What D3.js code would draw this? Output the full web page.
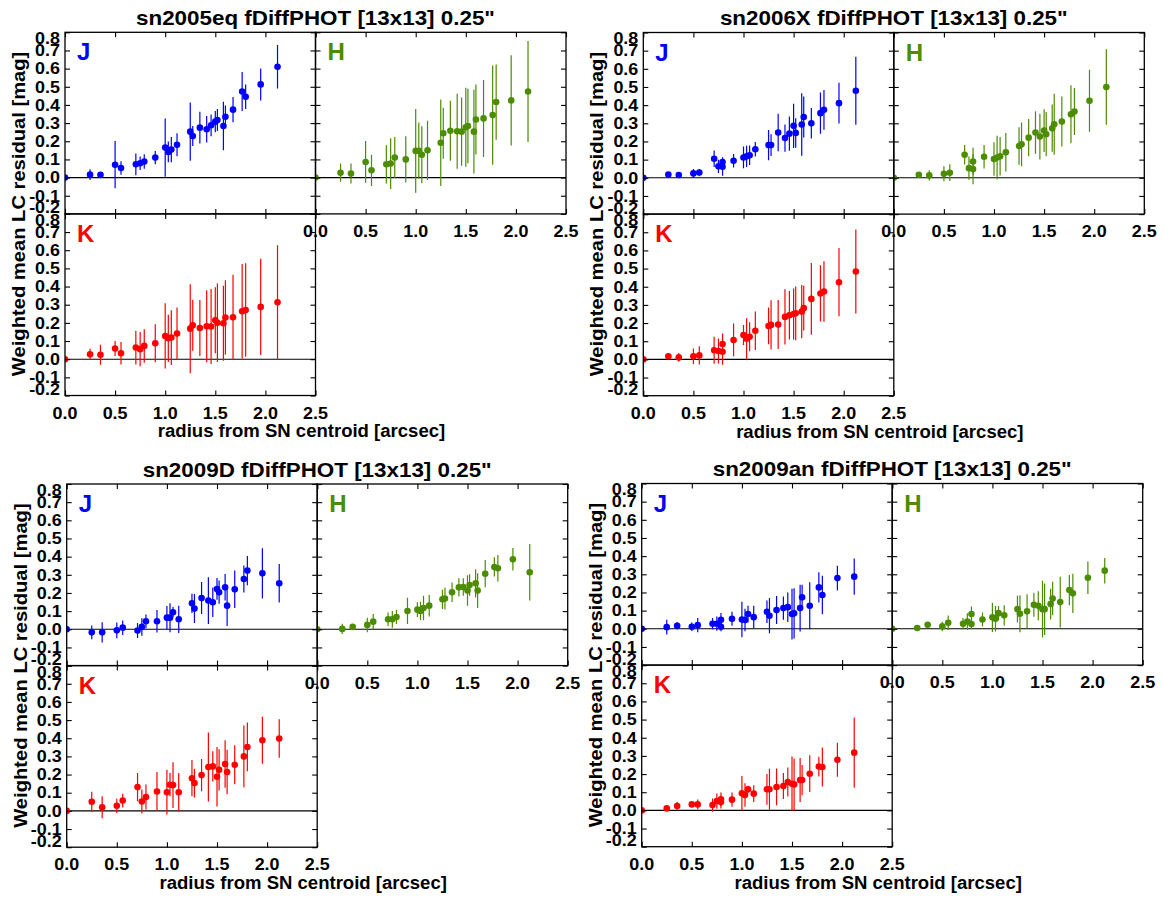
<!DOCTYPE html>
<html>
<head>
<meta charset="utf-8">
<script src="https://cdn.jsdelivr.net/npm/d3@7"></script>
<style>
  body { margin: 0; background: #fff; }
  text { font-family: "Liberation Sans", Arial, Helvetica, sans-serif; font-weight: bold; }
</style>
</head>
<body>
<svg id="fig" width="1163" height="898"></svg>
<script>
// Radii of the 13x13 grid cells (0.25" pixels) from the SN centroid
const radius = [0, 0.25, 0.354, 0.5, 0.559, 0.707, 0.75, 0.791, 0.901, 1.0, 1.031, 1.061, 1.118, 1.25, 1.275,
  1.346, 1.414, 1.458, 1.5, 1.521, 1.581, 1.601, 1.677, 1.768, 1.803, 1.953, 2.121];
// Same grid, but with two separate annuli at r ~ 0.79"
const radiusSplit = [0, 0.25, 0.354, 0.5, 0.559, 0.707, 0.75, 0.791, 0.791, 0.901, 1.0, 1.031, 1.061, 1.118, 1.25, 1.275,
  1.346, 1.414, 1.458, 1.5, 1.521, 1.581, 1.601, 1.677, 1.768, 1.803, 1.953, 2.121];

const objects = ["sn2005eq", "sn2006X", "sn2009D", "sn2009an"];
const bands = ["J", "H", "K"];
const yTicks = [-0.2, -0.1, 0.0, 0.1, 0.2, 0.3, 0.4, 0.5, 0.6, 0.7, 0.8];
const xTicks = [0.0, 0.5, 1.0, 1.5, 2.0, 2.5];

// sn2005eq
const sn2005eqJ = [0, 0.016, 0.015, 0.071, 0.053, 0.073, 0.079, 0.088, 0.11, 0.165, 0.141, 0.154, 0.181, 0.253, 0.229, 0.275, 0.266, 0.288, 0.308, 0.317, 0.284, 0.335, 0.374, 0.474, 0.445, 0.513, 0.61];
const sn2005eqJerr = [0, 0.03, 0.01, 0.13, 0.037, 0.06, 0.037, 0.04, 0.037, 0.16, 0.057, 0.07, 0.063, 0.16, 0.055, 0.087, 0.073, 0.06, 0.058, 0.06, 0.133, 0.062, 0.07, 0.107, 0.068, 0.088, 0.12];
const sn2005eqH = [0, 0.027, 0.022, 0.086, 0.04, 0.073, 0.077, 0.11, 0.10, 0.147, 0.148, 0.126, 0.15, 0.192, 0.244, 0.258, 0.255, 0.253, 0.277, 0.284, 0.253, 0.32, 0.326, 0.344, 0.416, 0.425, 0.474];
const sn2005eqHerr = [0, 0.05, 0.055, 0.115, 0.086, 0.105, 0.14, 0.113, 0.127, 0.23, 0.155, 0.157, 0.163, 0.238, 0.14, 0.165, 0.207, 0.188, 0.217, 0.205, 0.23, 0.193, 0.212, 0.273, 0.207, 0.248, 0.278];
const sn2005eqK = [0, 0.027, 0.024, 0.059, 0.033, 0.064, 0.055, 0.073, 0.088, 0.128, 0.115, 0.119, 0.141, 0.168, 0.187, 0.172, 0.181, 0.18, 0.214, 0.201, 0.198, 0.229, 0.231, 0.264, 0.271, 0.288, 0.313];
const sn2005eqKerr = [0, 0.031, 0.055, 0.041, 0.062, 0.093, 0.094, 0.092, 0.105, 0.18, 0.13, 0.151, 0.144, 0.245, 0.14, 0.154, 0.198, 0.207, 0.182, 0.216, 0.206, 0.205, 0.234, 0.26, 0.257, 0.265, 0.314];

// sn2006X
const sn2006XJ = [0, 0.018, 0.015, 0.024, 0.029, 0.105, 0.063, 0.087, 0.061, 0.094, 0.112, 0.118, 0.124, 0.157, 0.18, 0.18, 0.249, 0.219, 0.243, 0.286, 0.247, 0.293, 0.335, 0.30, 0.356, 0.374, 0.411, 0.479];
const sn2006XJerr = [0, 0.012, 0.01, 0.025, 0.02, 0.045, 0.036, 0.025, 0.05, 0.037, 0.06, 0.058, 0.054, 0.04, 0.083, 0.06, 0.103, 0.075, 0.094, 0.122, 0.081, 0.172, 0.113, 0.084, 0.113, 0.11, 0.112, 0.187];
const sn2006XH = [0, 0.017, 0.013, 0.022, 0.028, 0.127, 0.053, 0.09, 0.048, 0.116, 0.103, 0.112, 0.118, 0.14, 0.175, 0.184, 0.221, 0.249, 0.227, 0.26, 0.24, 0.273, 0.295, 0.31, 0.35, 0.365, 0.424, 0.50];
const sn2006XHerr = [0, 0.01, 0.028, 0.041, 0.046, 0.054, 0.064, 0.075, 0.083, 0.065, 0.092, 0.12, 0.106, 0.106, 0.103, 0.12, 0.103, 0.117, 0.126, 0.118, 0.122, 0.13, 0.168, 0.138, 0.16, 0.129, 0.171, 0.208];
const sn2006XK = [0, 0.017, 0.011, 0.017, 0.022, 0.05, 0.046, 0.085, 0.042, 0.107, 0.134, 0.114, 0.125, 0.158, 0.184, 0.19, 0.192, 0.234, 0.243, 0.25, 0.254, 0.263, 0.282, 0.333, 0.363, 0.374, 0.425, 0.484];
const sn2006XKerr = [0, 0.01, 0.024, 0.043, 0.05, 0.074, 0.069, 0.057, 0.071, 0.09, 0.055, 0.113, 0.08, 0.106, 0.101, 0.136, 0.135, 0.152, 0.134, 0.14, 0.148, 0.147, 0.123, 0.198, 0.155, 0.167, 0.188, 0.231];

// sn2009D
const sn2009DJ = [0, -0.017, -0.017, -0.006, 0.009, -0.007, 0.013, 0.044, 0.044, 0.064, 0.064, 0.094, 0.055, 0.143, 0.114, 0.172, 0.158, 0.149, 0.222, 0.204, 0.231, 0.13, 0.22, 0.277, 0.323, 0.308, 0.253];
const sn2009DJerr = [0, 0.038, 0.056, 0.044, 0.04, 0.041, 0.048, 0.038, 0.062, 0.064, 0.08, 0.028, 0.075, 0.053, 0.08, 0.088, 0.129, 0.081, 0.06, 0.064, 0.073, 0.112, 0.103, 0.074, 0.08, 0.138, 0.106];
const sn2009DH = [0, 0.002, 0.013, 0.024, 0.042, 0.055, 0.055, 0.068, 0.101, 0.108, 0.101, 0.117, 0.13, 0.165, 0.169, 0.204, 0.231, 0.233, 0.213, 0.244, 0.253, 0.213, 0.306, 0.343, 0.336, 0.385, 0.314];
const sn2009DHerr = [0, 0.028, 0.01, 0.04, 0.042, 0.037, 0.046, 0.039, 0.072, 0.041, 0.05, 0.067, 0.059, 0.053, 0.06, 0.054, 0.05, 0.048, 0.084, 0.059, 0.078, 0.096, 0.075, 0.053, 0.073, 0.062, 0.156];
const sn2009DK = [0, 0.05, 0.02, 0.028, 0.057, 0.131, 0.052, 0.076, 0.107, 0.103, 0.144, 0.142, 0.103, 0.18, 0.153, 0.197, 0.241, 0.245, 0.188, 0.226, 0.258, 0.214, 0.254, 0.30, 0.352, 0.389, 0.398];
const sn2009DKerr = [0, 0.055, 0.06, 0.039, 0.038, 0.078, 0.066, 0.069, 0.107, 0.123, 0.064, 0.126, 0.106, 0.1, 0.079, 0.089, 0.19, 0.083, 0.164, 0.114, 0.131, 0.122, 0.108, 0.17, 0.134, 0.129, 0.106];

// sn2009an
const sn2009anJ = [0, 0.009, 0.017, 0.011, 0.02, 0.028, 0.028, 0.05, 0.011, 0.055, 0.051, 0.048, 0.081, 0.064, 0.094, 0.072, 0.103, 0.114, 0.119, 0.081, 0.085, 0.114, 0.173, 0.127, 0.228, 0.186, 0.279, 0.287];
const sn2009anJerr = [0, 0.041, 0.021, 0.023, 0.039, 0.031, 0.039, 0.037, 0.025, 0.039, 0.098, 0.062, 0.046, 0.063, 0.062, 0.097, 0.077, 0.064, 0.081, 0.14, 0.138, 0.129, 0.069, 0.129, 0.083, 0.106, 0.068, 0.1];
const sn2009anH = [0, 0.004, 0.022, 0.013, 0.033, 0.028, 0.04, 0.081, 0.026, 0.051, 0.063, 0.055, 0.086, 0.074, 0.108, 0.083, 0.096, 0.132, 0.127, 0.108, 0.108, 0.136, 0.167, 0.147, 0.213, 0.195, 0.281, 0.32];
const sn2009anHerr = [0, 0.01, 0.01, 0.026, 0.04, 0.032, 0.046, 0.041, 0.028, 0.039, 0.081, 0.07, 0.039, 0.056, 0.074, 0.102, 0.094, 0.066, 0.08, 0.156, 0.142, 0.085, 0.092, 0.14, 0.083, 0.108, 0.09, 0.07];
const sn2009anK = [0, 0.011, 0.024, 0.033, 0.033, 0.029, 0.051, 0.061, 0.046, 0.059, 0.094, 0.085, 0.116, 0.092, 0.116, 0.116, 0.129, 0.134, 0.156, 0.147, 0.143, 0.167, 0.167, 0.202, 0.241, 0.239, 0.279, 0.318];
const sn2009anKerr = [0, 0.012, 0.023, 0.01, 0.027, 0.036, 0.042, 0.037, 0.035, 0.039, 0.095, 0.065, 0.02, 0.046, 0.085, 0.113, 0.101, 0.072, 0.08, 0.15, 0.143, 0.121, 0.083, 0.101, 0.055, 0.107, 0.094, 0.193];

// Series table assembled from the arrays above
const series = {
  sn2005eq: { r: radius,      J: [sn2005eqJ, sn2005eqJerr], H: [sn2005eqH, sn2005eqHerr], K: [sn2005eqK, sn2005eqKerr] },
  sn2006X:  { r: radiusSplit, J: [sn2006XJ, sn2006XJerr],   H: [sn2006XH, sn2006XHerr],   K: [sn2006XK, sn2006XKerr] },
  sn2009D:  { r: radius,      J: [sn2009DJ, sn2009DJerr],   H: [sn2009DH, sn2009DHerr],   K: [sn2009DK, sn2009DKerr] },
  sn2009an: { r: radiusSplit, J: [sn2009anJ, sn2009anJerr], H: [sn2009anH, sn2009anHerr], K: [sn2009anK, sn2009anKerr] }
};

// ---- layout & style ----
const bandColor = { J: "#0000ff", H: "#4b8c00", K: "#ff0000" };
const groupPos = [
  { left: 65.0,  top: 32.3 },
  { left: 643.3, top: 32.5 },
  { left: 66.7,  top: 484.0 },
  { left: 641.7, top: 483.5 }
];
const PW = 250.5, PH = 181.6;
const STRETCH = 1.12;   // wide bold lettering
const TICK = 5;

const svg = d3.select("#fig");
const defs = svg.append("defs");
const fmt = v => v.toFixed(1);

function label(g, str, x, y, opts) {
  const o = Object.assign({ size: 16, anchor: "middle", rotate: 0, fill: "#000", sx: STRETCH, dy: "0" }, opts);
  let tf = `translate(${x},${y})`;
  if (o.rotate) tf += ` rotate(${o.rotate})`;
  tf += ` scale(${o.sx},1)`;
  return g.append("text")
    .attr("transform", tf)
    .attr("text-anchor", o.anchor)
    .attr("dy", o.dy)
    .attr("font-size", o.size)
    .attr("fill", o.fill)
    .text(str);
}

function drawPanel(g, id, band, xs, ys, r, vals, errs, opts) {
  const [x0, x1] = xs.range();
  const [y1, y0] = ys.range();
  const col = bandColor[band];

  defs.append("clipPath").attr("id", id)
    .append("rect").attr("x", x0).attr("y", y0).attr("width", x1 - x0).attr("height", y1 - y0);

  const plot = g.append("g").attr("clip-path", `url(#${id})`);

  // zero reference line
  plot.append("line")
    .attr("x1", x0).attr("x2", x1)
    .attr("y1", ys(0)).attr("y2", ys(0))
    .attr("stroke", "#000").attr("stroke-width", 1.1);

  const pts = r.map((d, i) => ({ r: d, v: vals[i], e: errs[i] }));

  plot.selectAll("line.err").data(pts.filter(d => d.e > 0)).join("line")
    .attr("class", "err")
    .attr("x1", d => xs(d.r)).attr("x2", d => xs(d.r))
    .attr("y1", d => ys(d.v - d.e)).attr("y2", d => ys(d.v + d.e))
    .attr("stroke", col).attr("stroke-width", 1.2);

  plot.selectAll("circle").data(pts).join("circle")
    .attr("cx", d => xs(d.r)).attr("cy", d => ys(d.v))
    .attr("r", 3.3).attr("fill", col);

  // inward ticks on all four sides
  const tickStyle = a => a.tickSize(-TICK).tickFormat("").tickSizeOuter(0);
  const axes = [
    [d3.axisLeft(ys).tickValues(yTicks), `translate(${x0},0)`],
    [d3.axisRight(ys).tickValues(yTicks), `translate(${x1},0)`],
    [d3.axisTop(xs).tickValues(xTicks), `translate(0,${y0})`],
    [d3.axisBottom(xs).tickValues(xTicks), `translate(0,${y1})`]
  ];
  axes.forEach(([a, tf]) => {
    const ag = g.append("g").attr("transform", tf).call(tickStyle(a));
    ag.select(".domain").remove();
    ag.selectAll(".tick line").attr("stroke", "#000").attr("stroke-width", 1.1);
  });

  // frame
  g.append("rect")
    .attr("x", x0).attr("y", y0).attr("width", x1 - x0).attr("height", y1 - y0)
    .attr("fill", "none").attr("stroke", "#000").attr("stroke-width", 1.3);

  // band letter
  label(g, band, x0 + 12, y0 + 28, { size: 24, anchor: "start", fill: col, sx: 1.0 });

  if (opts.yLabels) {
    const half = 6.2;
    yTicks.forEach(v => {
      const yy = Math.max(y0 + half, Math.min(y1 - half, ys(v)));
      label(g, fmt(v), x0 - 5, yy, { size: 16, anchor: "end", dy: "0.36em" });
    });
  }
  if (opts.xLabels) {
    xTicks.forEach(v => {
      label(g, fmt(v), xs(v), y1 + 23, { size: 16, anchor: "middle" });
    });
  }
}

objects.forEach((name, gi) => {
  const pos = groupPos[gi];
  const s = series[name];
  const g = svg.append("g");

  const xLeft = d3.scaleLinear().domain([0, 2.5]).range([pos.left, pos.left + PW]);
  const xRight = d3.scaleLinear().domain([0, 2.5]).range([pos.left + PW, pos.left + 2 * PW]);
  const yTop = d3.scaleLinear().domain([-0.2, 0.8]).range([pos.top + PH, pos.top]);
  const yBot = d3.scaleLinear().domain([-0.2, 0.8]).range([pos.top + 2 * PH, pos.top + PH]);

  drawPanel(g, `clip-${name}-J`, "J", xLeft, yTop, s.r, s.J[0], s.J[1], { yLabels: true, xLabels: false });
  drawPanel(g, `clip-${name}-K`, "K", xLeft, yBot, s.r, s.K[0], s.K[1], { yLabels: true, xLabels: true });
  drawPanel(g, `clip-${name}-H`, "H", xRight, yTop, s.r, s.H[0], s.H[1], { yLabels: false, xLabels: true });

  // titles
  label(g, `${name} fDiffPHOT [13x13] 0.25"`, pos.left + PW, pos.top - 7.5, { size: 20 });
  label(g, "radius from SN centroid [arcsec]", pos.left + PW - 14, pos.top + 405, { size: 18, sx: 1.03 });
  label(g, "Weighted mean LC residual [mag]", pos.left - 40, pos.top + PH, { size: 18, rotate: -90 });
});
</script>
</body>
</html>
